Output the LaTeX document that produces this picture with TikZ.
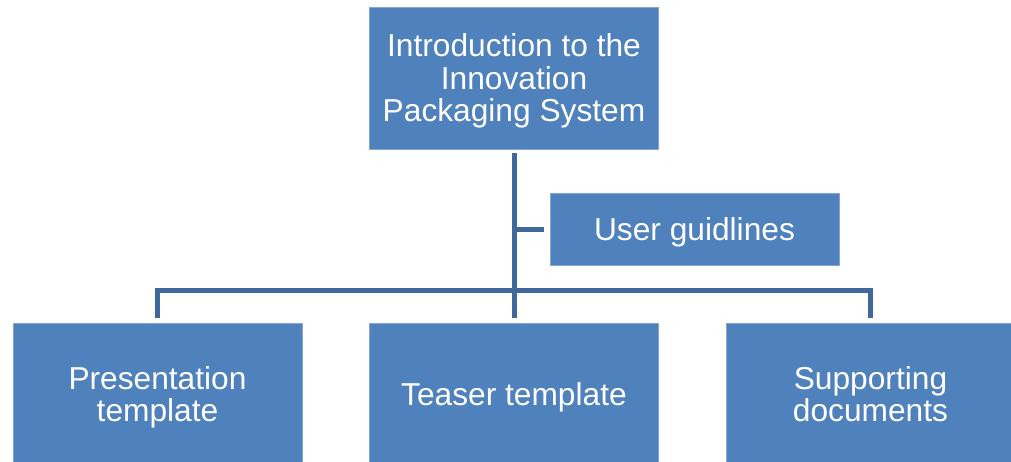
\documentclass[tikz,border=0pt]{standalone}
\usepackage{fontspec}
\setmainfont{Liberation Sans}
\definecolor{boxblue}{HTML}{4F81BD}
\definecolor{linkblue}{HTML}{41689C}
\begin{document}
\begin{tikzpicture}[
        x = 1pt, y = -1pt,
block/.style = {fill=boxblue, draw=boxblue!70!white, line width=0.8pt,
                minimum width=289pt, minimum height=142pt, inner sep=0pt,
                text=white, align=center, text depth=0pt,
                font=\fontsize{31.7}{32.5}\selectfont},
 link/.style = {draw=linkblue, line width=5pt}
                    ]
\useasboundingbox (0,0) rectangle (1011,461);
% boxes
    \node[block] (intro)   at (514,78)   {Introduction to the\\Innovation\\Packaging System};
    \node[block, minimum height=72pt] (guide) at (694.5,229) {User guidlines};
    \node[block] (present) at (157.5,394) {Presentation\\template};
    \node[block] (teaser)  at (514,394)   {Teaser template};
    \node[block] (support) at (870.5,394) {Supporting\\documents};
% links
\coordinate (hub) at (514,290.5);
    \draw[link, shorten <=4pt, shorten >=5pt] (intro) -- (teaser);
    \draw[link, shorten >=6pt] (intro |- guide) -- (guide);
    \draw[link, shorten <=5pt, shorten >=5pt] (present) |- (hub) -| (support);
\end{tikzpicture}
\end{document}
